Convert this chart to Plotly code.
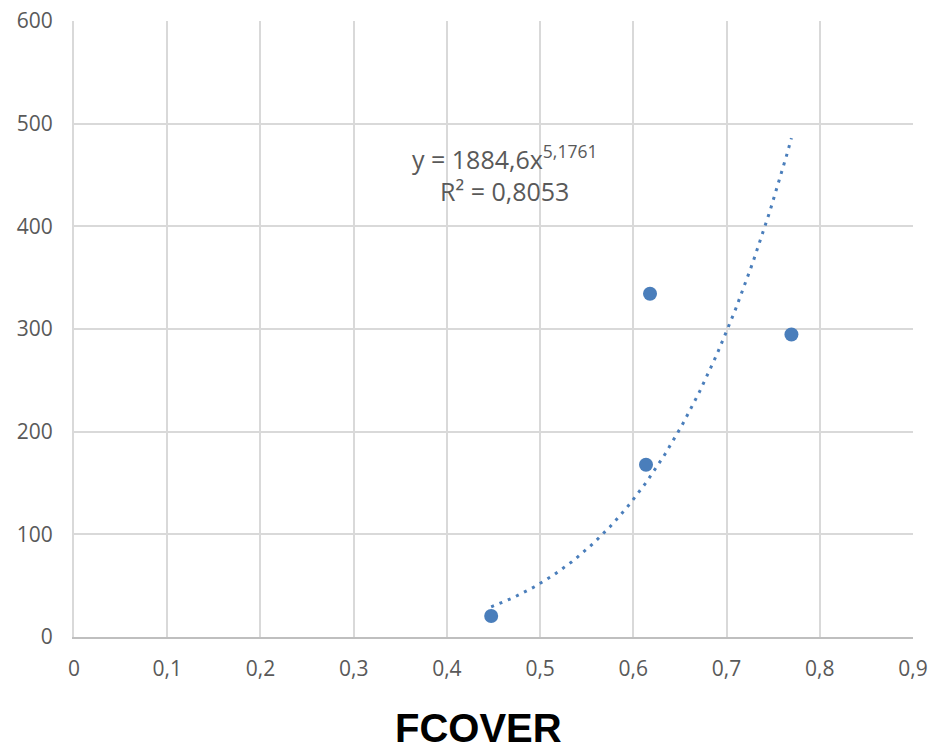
import numpy as np
import plotly.graph_objects as go

# Data
fcover = [0.4475, 0.6136, 0.6179, 0.7696]
values = [20.4, 167.8, 334.4, 294.7]

# Trendline equation shown on the chart: y = 1884,6 x^5,1761
coef_a = 1884.6
coef_b = 5.1761
eq_text = "y = 1884,6x<sup>5,1761</sup><br>R² = 0,8053"

x_ticks = [0, 0.1, 0.2, 0.3, 0.4, 0.5, 0.6, 0.7, 0.8, 0.9]
y_ticks = [0, 100, 200, 300, 400, 500, 600]

trend_x = np.linspace(min(fcover), max(fcover), 120)
trend_y = coef_a * trend_x ** coef_b

blue = "#4a7ebb"
grid = "#d9d9d9"
txt = "#595959"
font_family = "Open Sans, Noto Sans, sans-serif"

fig = go.Figure()
fig.add_trace(go.Scatter(
    x=trend_x, y=trend_y, mode="lines",
    line=dict(color=blue, width=3, dash="3px,6px"),
    hoverinfo="skip", showlegend=False,
))
fig.add_trace(go.Scatter(
    x=fcover, y=values, mode="markers",
    marker=dict(color=blue, size=14, line=dict(width=0)),
    showlegend=False,
))

fig.add_annotation(
    x=0.462, y=451, xref="x", yref="y",
    text=eq_text, showarrow=False,
    font=dict(family=font_family, size=25, color=txt),
    align="center",
)

fig.add_annotation(
    x=(478 - 74) / 839, y=-0.1477, xref="paper", yref="paper", yanchor="middle",
    text="<b>FCOVER</b>", showarrow=False,
    font=dict(family="Liberation Sans, Arial, sans-serif", size=40, color="black"),
)

fig.update_layout(
    width=931, height=752,
    margin=dict(l=74, r=18, t=21, b=115, autoexpand=False),
    paper_bgcolor="white", plot_bgcolor="white",
    separators=", ",
    font=dict(family=font_family, size=21, color=txt),
    xaxis=dict(
        range=[0, 0.9], tickvals=x_ticks, tickformat=".1~f",
        showgrid=True, gridcolor=grid, gridwidth=2,
        zeroline=False, showline=True, linecolor="#bfbfbf", linewidth=2,
        ticks="", ticklabelstandoff=12, automargin=False,
        tickfont=dict(family=font_family, size=21, color=txt),
    ),
    yaxis=dict(
        range=[0, 600], tickvals=y_ticks,
        showgrid=True, gridcolor=grid, gridwidth=2,
        zeroline=False, showline=True, linecolor=grid, linewidth=2,
        ticks="", ticklabelstandoff=15, automargin=False,
        tickfont=dict(family=font_family, size=21, color=txt),
    ),
)

fig.write_html("out.html")
